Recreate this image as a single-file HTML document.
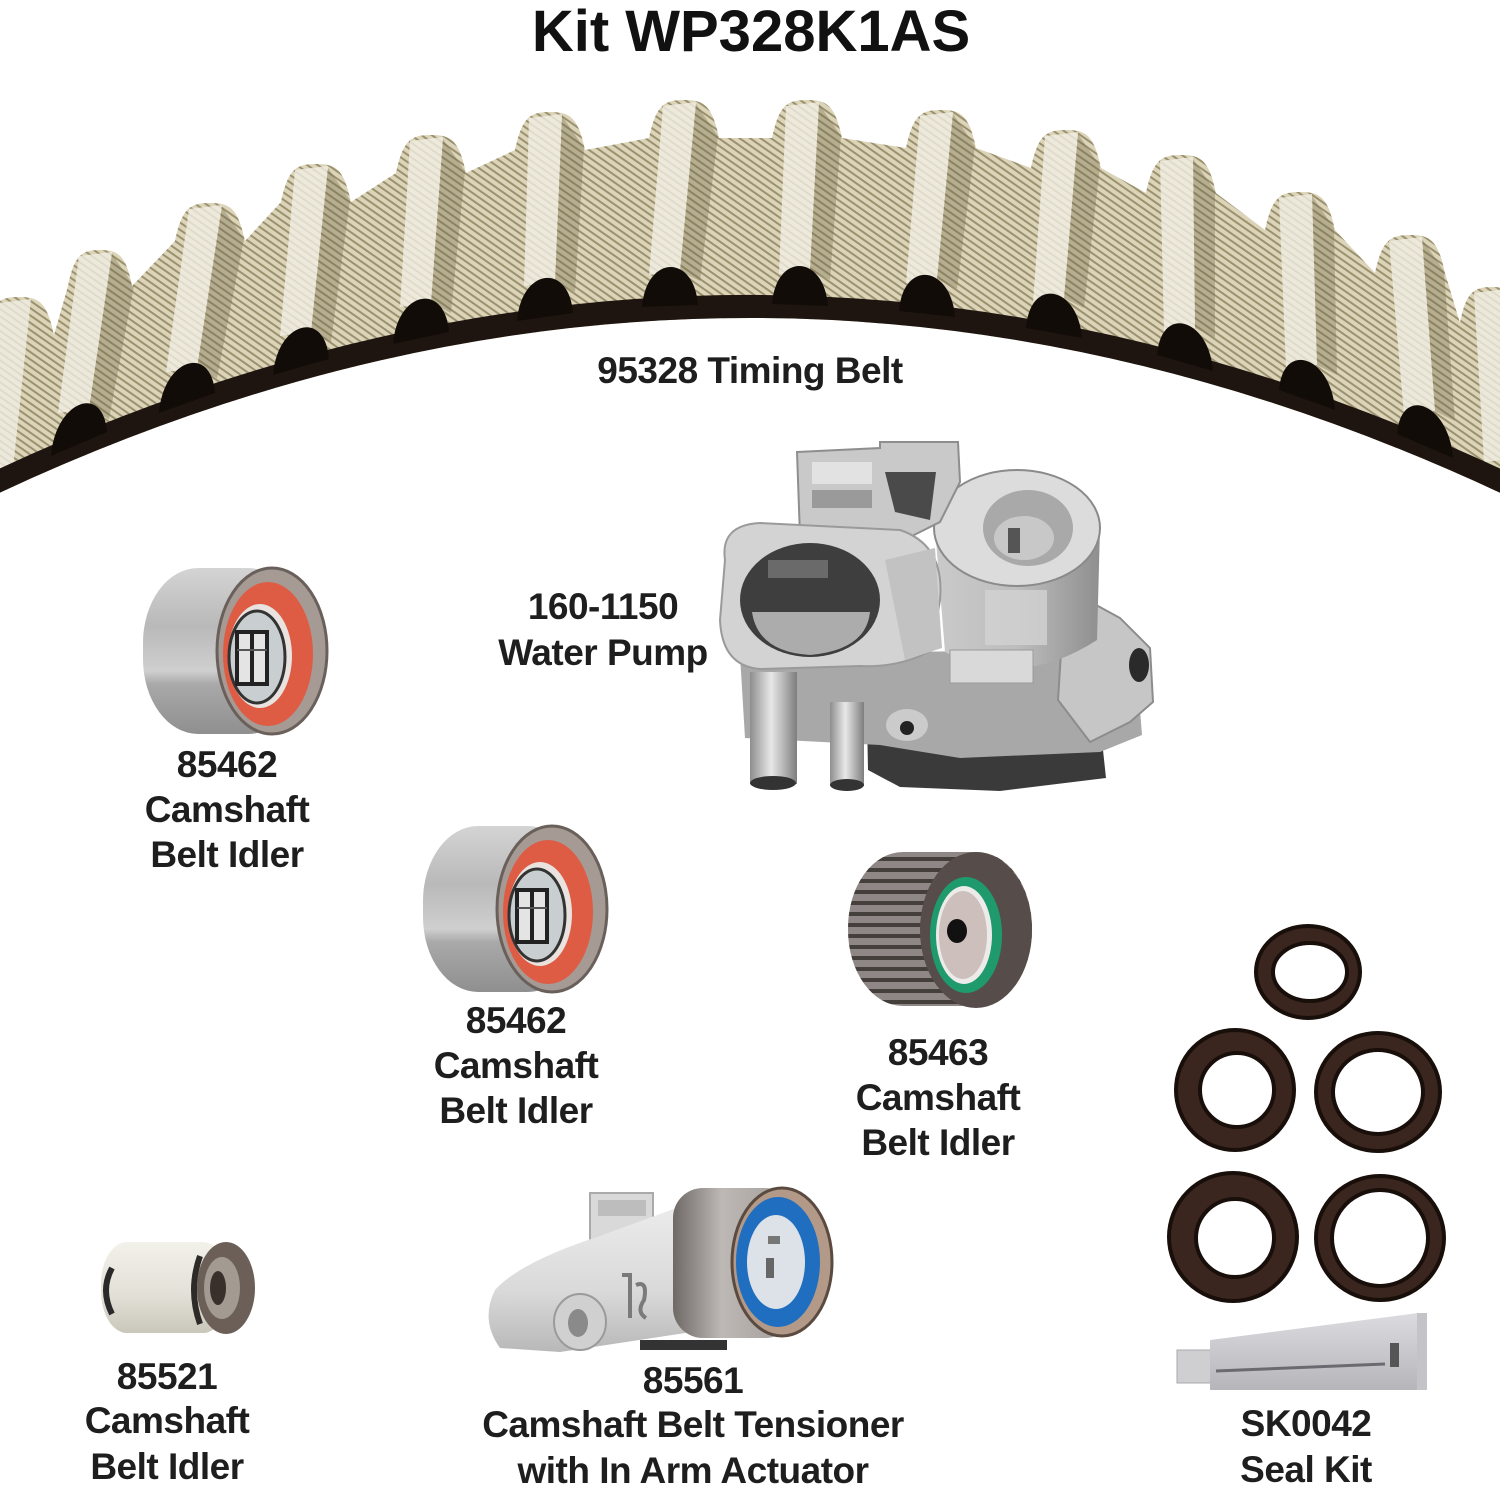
<!DOCTYPE html>
<html>
<head>
<meta charset="utf-8">
<style>
html,body{margin:0;padding:0;background:#fff;}
svg{display:block;}
.t{font-family:"Liberation Sans",Arial,sans-serif;font-weight:bold;font-size:37px;letter-spacing:-0.5px;fill:#1e1e1e;text-anchor:middle;}
</style>
</head>
<body>
<svg width="1500" height="1500" viewBox="0 0 1500 1500" xmlns="http://www.w3.org/2000/svg">
<defs>
  <pattern id="tex" width="6" height="6" patternUnits="userSpaceOnUse" patternTransform="rotate(35)">
    <rect width="6" height="6" fill="#dbd4b9"/>
    <rect width="6" height="2" fill="#9c916e"/>
  </pattern>
  <clipPath id="beltclip">
    <path d="M -20 345 L -16 335 C -9 302 -1 297 19 297 C 39 297 47 302 54 335
    L 68 286 C 74 255 82 250 100 250 C 118 250 126 255 132 286
    L 175 241 C 182 208 190 203 210 203 C 230 203 238 208 245 241
    L 281 202 C 288 169 296 164 316 164 C 336 164 344 169 351 202
    L 396 173 C 403 140 411 135 431 135 C 451 135 459 140 466 173
    L 515 150 C 522 117 530 112 550 112 C 570 112 578 117 585 150
    L 649 138 C 656 105 664 100 684 100 C 704 100 712 105 719 138
    L 772 138 C 779 105 787 100 807 100 C 827 100 835 105 842 138
    L 906 148 C 913 115 921 110 941 110 C 961 110 969 115 976 148
    L 1031 168 C 1038 135 1046 130 1066 130 C 1086 130 1094 135 1101 168
    L 1146 193 C 1153 160 1161 155 1181 155 C 1201 155 1209 160 1216 193
    L 1265 230 C 1272 197 1280 192 1300 192 C 1320 192 1328 197 1335 230
    L 1375 273 C 1382 240 1390 235 1410 235 C 1430 235 1438 240 1445 273
    L 1460 323 C 1466 292 1474 287 1492 287 C 1510 287 1518 292 1524 323
    L 1530 330 L 1530 507 Q 755 131.5 -20 502 Z"/>
  </clipPath>
  <linearGradient id="idlerBody" x1="0" y1="0" x2="0" y2="1">
    <stop offset="0" stop-color="#d4d4d4"/>
    <stop offset="0.35" stop-color="#b9b9b9"/>
    <stop offset="0.62" stop-color="#cfcfcf"/>
    <stop offset="0.7" stop-color="#a9a9a9"/>
    <stop offset="1" stop-color="#8f8f8f"/>
  </linearGradient>
  <linearGradient id="pipeG" x1="0" y1="0" x2="1" y2="0">
    <stop offset="0" stop-color="#8e8e8e"/>
    <stop offset="0.45" stop-color="#e8e8e8"/>
    <stop offset="1" stop-color="#7e7e7e"/>
  </linearGradient>
  <linearGradient id="hubG" x1="0" y1="0" x2="1" y2="0">
    <stop offset="0" stop-color="#cacaca"/>
    <stop offset="0.5" stop-color="#bdbdbd"/>
    <stop offset="1" stop-color="#8f8f8f"/>
  </linearGradient>
  <linearGradient id="pulG" x1="0" y1="0" x2="1" y2="0">
    <stop offset="0" stop-color="#6f6966"/>
    <stop offset="0.4" stop-color="#bdb8b5"/>
    <stop offset="1" stop-color="#a29c98"/>
  </linearGradient>
  <linearGradient id="armG" x1="0" y1="0" x2="0" y2="1">
    <stop offset="0" stop-color="#ececec"/>
    <stop offset="0.6" stop-color="#d9d9d9"/>
    <stop offset="1" stop-color="#b8b8b8"/>
  </linearGradient>
  <linearGradient id="creamG" x1="0" y1="0" x2="0" y2="1">
    <stop offset="0" stop-color="#f2f1ea"/>
    <stop offset="0.6" stop-color="#e2e0d6"/>
    <stop offset="1" stop-color="#c9c6ba"/>
  </linearGradient>
  <linearGradient id="tubeG" x1="0" y1="0" x2="0" y2="1">
    <stop offset="0" stop-color="#dcdce0"/>
    <stop offset="1" stop-color="#b5b5ba"/>
  </linearGradient>
  <pattern id="gearp" width="10" height="11" patternUnits="userSpaceOnUse" y="850">
    <rect width="10" height="11" fill="#8e8785"/>
    <rect y="7" width="10" height="4" fill="#453f3c"/>
  </pattern>
</defs>

<!-- Title -->
<text x="751" y="51" style="font-family:'Liberation Sans',Arial,sans-serif;font-weight:bold;font-size:58px;fill:#111;text-anchor:middle;">Kit WP328K1AS</text>

<!-- ===== Timing belt ===== -->
<g clip-path="url(#beltclip)">
  <rect x="-20" y="80" width="1560" height="440" fill="url(#tex)"/>
  <g fill="#6f6649" opacity="0.35">
    <polygon points="112,254 134,286 109,419 89,409"/>
    <polygon points="222,207 244,239 217,378 197,368"/>
    <polygon points="328,168 350,200 331,342 311,332"/>
    <polygon points="443,139 465,171 451,313 431,303"/>
    <polygon points="562,116 584,148 575,292 555,282"/>
    <polygon points="696,104 718,136 700,281 680,271"/>
    <polygon points="819,104 841,136 830,280 810,270"/>
    <polygon points="953,114 975,146 957,289 937,279"/>
    <polygon points="1078,134 1100,166 1084,308 1064,298"/>
    <polygon points="1193,159 1215,191 1215,338 1195,328"/>
    <polygon points="1312,196 1334,228 1337,375 1317,365"/>
    <polygon points="1422,239 1444,271 1455,421 1435,411"/>
  </g>
  <g fill="#f1eee4" opacity="0.8">
    <polygon points="-2,303 31,299 12,478 -16,482"/>
    <polygon points="79,256 112,252 89,409 58,413"/>
    <polygon points="189,209 222,205 197,368 166,372"/>
    <polygon points="295,170 328,166 311,332 280,336"/>
    <polygon points="410,141 443,137 431,303 400,307"/>
    <polygon points="529,118 562,114 555,282 524,286"/>
    <polygon points="663,106 696,102 680,271 649,275"/>
    <polygon points="786,106 819,102 810,270 779,274"/>
    <polygon points="920,116 953,112 937,279 906,283"/>
    <polygon points="1045,136 1078,132 1064,298 1033,302"/>
    <polygon points="1160,161 1193,157 1195,328 1164,332"/>
    <polygon points="1279,198 1312,194 1317,365 1286,369"/>
    <polygon points="1389,241 1422,237 1435,411 1404,415"/>
    <polygon points="1474,293 1506,289 1512,459 1484,462"/>
  </g>
  <path d="M 1530 496 Q 755 120.5 -20 491" fill="none" stroke="#1f1510" stroke-width="24"/>
  <g fill="#120c09">
    <path d="M 51 456 C 55 402 103 382 107 432 Z"/>
    <path d="M 159 413 C 163 359 211 343 215 393 Z"/>
    <path d="M 273 375 C 277 322 325 308 329 359 Z"/>
    <path d="M 393 344 C 397 291 445 281 449 332 Z"/>
    <path d="M 517 321 C 521 268 569 262 573 313 Z"/>
    <path d="M 642 307 C 646 255 694 253 698 305 Z"/>
    <path d="M 772 304 C 776 252 824 254 828 306 Z"/>
    <path d="M 899 311 C 903 259 951 265 955 317 Z"/>
    <path d="M 1026 328 C 1030 276 1078 286 1082 338 Z"/>
    <path d="M 1157 355 C 1161 304 1209 318 1213 371 Z"/>
    <path d="M 1279 390 C 1283 340 1331 356 1335 410 Z"/>
    <path d="M 1397 434 C 1401 384 1449 404 1453 458 Z"/>
  </g>
</g>
<text class="t" x="750" y="383">95328 Timing Belt</text>

<!-- ===== Water pump ===== -->
<g>
  <path d="M 867 718 L 1100 722 L 1106 778 L 1000 791 L 900 787 L 868 770 Z" fill="#3a3a3a"/>
  <path d="M 740 655 L 1135 648 L 1142 735 L 1100 752 L 960 758 L 880 745 L 745 738 Z" fill="#a8a8a8"/>
  <path d="M 1065 588 L 1120 618 L 1150 648 L 1153 702 L 1130 722 L 1090 742 L 1058 700 Z" fill="#c6c6c6" stroke="#8c8c8c" stroke-width="2"/>
  <ellipse cx="1139" cy="665" rx="10" ry="17" fill="#2a2a2a"/>
  <path d="M 935 528 L 1100 528 L 1097 640 Q 1020 690 945 652 Z" fill="url(#hubG)"/>
  <rect x="985" y="590" width="62" height="55" fill="#d2d2d2" opacity="0.8"/>
  <ellipse cx="1017" cy="528" rx="83" ry="58" fill="#dcdcdc" stroke="#8a8a8a" stroke-width="2"/>
  <ellipse cx="1028" cy="528" rx="45" ry="38" fill="#a9a9a9"/>
  <ellipse cx="1024" cy="538" rx="30" ry="22" fill="#c8c8c8"/>
  <rect x="1008" y="528" width="12" height="25" fill="#555"/>
  <rect x="950" y="650" width="83" height="33" fill="#d9d9d9" stroke="#9a9a9a" stroke-width="1"/>
  <polygon points="797,452 880,448 880,442 958,442 960,482 940,522 900,542 800,536" fill="#c9c9c9" stroke="#8e8e8e" stroke-width="2"/>
  <polygon points="885,472 936,472 930,520 895,512" fill="#4a4a4a"/>
  <rect x="812" y="462" width="60" height="22" fill="#e2e2e2"/>
  <rect x="812" y="490" width="60" height="18" fill="#9a9a9a"/>
  <path d="M 725 560 Q 720 525 760 523 L 900 530 Q 945 545 940 600 L 932 650 Q 900 668 860 666 L 760 669 Q 722 666 720 620 Z" fill="#d3d3d3" stroke="#9a9a9a" stroke-width="2"/>
  <ellipse cx="810" cy="600" rx="70" ry="57" fill="#3e3e3e"/>
  <path d="M 752 612 L 870 612 Q 866 650 810 655 Q 758 652 752 612 Z" fill="#acacac"/>
  <rect x="768" y="560" width="60" height="18" fill="#6a6a6a"/>
  <polygon points="885,560 935,548 942,648 905,660" fill="#c2c2c2"/>
  <rect x="750" y="672" width="47" height="112" fill="url(#pipeG)"/>
  <ellipse cx="773" cy="783" rx="23" ry="7" fill="#333"/>
  <rect x="830" y="702" width="34" height="84" fill="url(#pipeG)"/>
  <ellipse cx="847" cy="785" rx="17" ry="6" fill="#333"/>
  <ellipse cx="907" cy="725" rx="21" ry="16" fill="#cbcbcb"/>
  <ellipse cx="907" cy="728" rx="7" ry="7" fill="#222"/>
</g>
<text class="t" x="603" y="619">160-1150</text>
<text class="t" x="603" y="665">Water Pump</text>

<!-- ===== Idler 1 (85462) ===== -->
<g id="idler">
  <rect x="143" y="568" width="160" height="166" rx="55" ry="75" fill="url(#idlerBody)"/>
  <ellipse cx="272" cy="651" rx="55" ry="83" fill="#a69a94" stroke="#6a605b" stroke-width="3"/>
  <ellipse cx="268" cy="654" rx="45" ry="72" fill="#de5c44"/>
  <ellipse cx="260" cy="656" rx="32" ry="52" fill="#e9e2de"/>
  <ellipse cx="257" cy="657" rx="28" ry="46" fill="#c9cfd0" stroke="#333" stroke-width="3"/>
  <rect x="237" y="632" width="30" height="52" fill="#e4e4e4" stroke="#222" stroke-width="4"/>
  <line x1="252" y1="632" x2="252" y2="684" stroke="#222" stroke-width="4"/>
  <line x1="237" y1="650" x2="267" y2="650" stroke="#555" stroke-width="2"/>
</g>
<text class="t" x="227" y="777">85462</text>
<text class="t" x="227" y="822">Camshaft</text>
<text class="t" x="227" y="867">Belt Idler</text>

<!-- ===== Idler 2 (85462) ===== -->
<use href="#idler" transform="translate(280,258)"/>
<text class="t" x="516" y="1033">85462</text>
<text class="t" x="516" y="1078">Camshaft</text>
<text class="t" x="516" y="1123">Belt Idler</text>

<!-- ===== Gear idler (85463) ===== -->
<g>
  <rect x="848" y="852" width="184" height="154" rx="55" ry="76" fill="url(#gearp)"/>
  <ellipse cx="976" cy="930" rx="56" ry="78" fill="#564d4a"/>
  <ellipse cx="966" cy="935" rx="36" ry="58" fill="#1e9a6d"/>
  <ellipse cx="964" cy="935" rx="28" ry="49" fill="#ecebea"/>
  <ellipse cx="963" cy="935" rx="24" ry="44" fill="#cdbfbb"/>
  <ellipse cx="957" cy="931" rx="10" ry="12" fill="#111"/>
</g>
<text class="t" x="938" y="1065">85463</text>
<text class="t" x="938" y="1110">Camshaft</text>
<text class="t" x="938" y="1155">Belt Idler</text>

<!-- ===== Small idler (85521) ===== -->
<g>
  <rect x="101" y="1242" width="128" height="91" rx="26" ry="42" fill="url(#creamG)"/>
  <path d="M 112 1268 Q 100 1290 112 1314" fill="none" stroke="#2a2a2a" stroke-width="6"/>
  <path d="M 200 1256 Q 188 1290 200 1324" fill="none" stroke="#2e2a27" stroke-width="6"/>
  <ellipse cx="226" cy="1288" rx="29" ry="46" fill="#6b5f57"/>
  <ellipse cx="222" cy="1288" rx="18" ry="31" fill="#a39a92"/>
  <ellipse cx="218" cy="1288" rx="8" ry="17" fill="#3a302b"/>
</g>
<text class="t" x="167" y="1389">85521</text>
<text class="t" x="167" y="1433">Camshaft</text>
<text class="t" x="167" y="1479">Belt Idler</text>

<!-- ===== Tensioner (85561) ===== -->
<g>
  <rect x="590" y="1193" width="63" height="54" fill="#d9d9d9" stroke="#aaa" stroke-width="2"/>
  <rect x="598" y="1200" width="48" height="16" fill="#bdbdbd"/>
  <path d="M 495 1290 Q 520 1262 600 1236 L 690 1203 L 705 1260 L 692 1332 L 560 1352 L 500 1348 Q 480 1320 495 1290 Z" fill="url(#armG)"/>
  <ellipse cx="580" cy="1322" rx="26" ry="28" fill="#d0d0d0" stroke="#9a9a9a" stroke-width="2"/>
  <ellipse cx="578" cy="1323" rx="10" ry="14" fill="#8a8a8a"/>
  <path d="M 622 1275 L 630 1275 L 630 1318 M 636 1285 Q 648 1280 644 1300 Q 636 1312 646 1318" fill="none" stroke="#7a7a7a" stroke-width="4"/>
  <rect x="673" y="1188" width="122" height="150" rx="30" fill="url(#pulG)"/>
  <ellipse cx="782" cy="1262" rx="50" ry="74" fill="#b39a88" stroke="#5a4a40" stroke-width="3"/>
  <ellipse cx="778" cy="1262" rx="42" ry="65" fill="#1f6ec0"/>
  <ellipse cx="776" cy="1262" rx="29" ry="47" fill="#dde2e8"/>
  <rect x="768" y="1236" width="12" height="8" fill="#777"/>
  <rect x="766" y="1258" width="8" height="20" fill="#666"/>
  <rect x="640" y="1340" width="87" height="10" fill="#333"/>
</g>
<text class="t" x="693" y="1393">85561</text>
<text class="t" x="693" y="1437">Camshaft Belt Tensioner</text>
<text class="t" x="693" y="1483">with In Arm Actuator</text>

<!-- ===== Seal kit ===== -->
<g stroke="#180e0a" stroke-width="4">
  <ellipse cx="1308" cy="972" rx="52" ry="46" fill="#3b251f"/>
  <ellipse cx="1310" cy="972" rx="37" ry="29" fill="#fff"/>
  <ellipse cx="1235" cy="1090" rx="59" ry="60" fill="#3b251f"/>
  <ellipse cx="1237" cy="1090" rx="37" ry="37" fill="#fff"/>
  <ellipse cx="1378" cy="1092" rx="62" ry="59" fill="#3b251f"/>
  <ellipse cx="1378" cy="1092" rx="45" ry="42" fill="#fff"/>
  <ellipse cx="1233" cy="1237" rx="64" ry="64" fill="#3b251f"/>
  <ellipse cx="1235" cy="1238" rx="39" ry="39" fill="#fff"/>
  <ellipse cx="1380" cy="1238" rx="64" ry="62" fill="#3b251f"/>
  <ellipse cx="1380" cy="1238" rx="48" ry="48" fill="#fff"/>
</g>
<g>
  <rect x="1177" y="1350" width="35" height="33" fill="#cfcfd2" stroke="#a8a8ac" stroke-width="1"/>
  <polygon points="1210,1340 1418,1313 1427,1313 1427,1390 1210,1390" fill="url(#tubeG)"/>
  <line x1="1216" y1="1371" x2="1385" y2="1364" stroke="#6a6a70" stroke-width="3"/>
  <rect x="1390" y="1343" width="9" height="24" fill="#555"/>
  <rect x="1417" y="1313" width="10" height="77" fill="#c4c4c8"/>
</g>
<text class="t" x="1306" y="1436">SK0042</text>
<text class="t" x="1306" y="1482">Seal Kit</text>
</svg>
</body>
</html>
